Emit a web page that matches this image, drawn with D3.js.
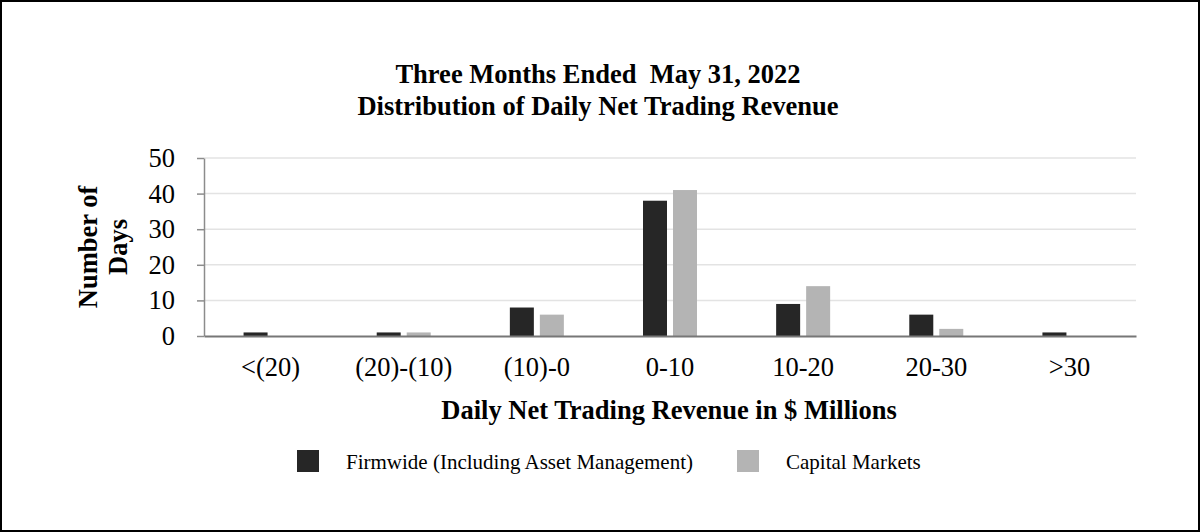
<!DOCTYPE html>
<html>
<head>
<meta charset="utf-8">
<script src="https://cdn.jsdelivr.net/npm/d3@7"></script>
<style>
  html, body { margin: 0; padding: 0; background: #fff; }
  svg { display: block; }
  text { font-family: "Liberation Serif", "Times New Roman", serif; fill: #000; }
</style>
</head>
<body>
<svg id="chart" width="1200" height="532"></svg>
<script>
// Distribution of daily net trading revenue, three months ended May 31, 2022

var categories = ["<(20)", "(20)-(10)", "(10)-0", "0-10", "10-20", "20-30", ">30"];
var firmwide = [1, 1, 8, 38, 9, 6, 1];
var capitalMarkets = [0, 1, 6, 41, 14, 2, 0];
var yTicks = [0, 10, 20, 30, 40, 50];
var seriesNames = ["Firmwide (Including Asset Management)", "Capital Markets"];
var seriesColors = ["#262626", "#b4b4b4"];

var FONT = "'Liberation Serif', 'Times New Roman', serif";
var svg = d3.select("#chart");
var W = 1200, H = 532;

// outer frame
svg.append("rect")
  .attr("x", 1).attr("y", 1)
  .attr("width", W - 2).attr("height", H - 2)
  .attr("fill", "#fff").attr("stroke", "#000").attr("stroke-width", 2);

var margin = { left: 204, right: 64, top: 158, bottom: 196 };
var plotW = W - margin.left - margin.right;
var plotH = H - margin.top - margin.bottom;

var g = svg.append("g").attr("transform", "translate(" + margin.left + "," + margin.top + ")");

var x0 = d3.scaleBand().domain(categories).range([0, plotW]).paddingInner(0).paddingOuter(0);
var x1 = d3.scaleBand().domain([0, 1]).range([x0.bandwidth() / 2 - 27, x0.bandwidth() / 2 + 27]).paddingInner(0.2);
var y = d3.scaleLinear().domain([0, 50]).range([plotH, 0]);

// gridlines
g.append("g")
  .selectAll("line")
  .data(yTicks.filter(function (d) { return d > 0; }))
  .enter().append("line")
  .attr("x1", 0).attr("x2", plotW)
  .attr("y1", function (d) { return y(d); })
  .attr("y2", function (d) { return y(d); })
  .attr("stroke", "#e3e3e3").attr("stroke-width", 1.5);

// bars
var series = [firmwide, capitalMarkets];
series.forEach(function (vals, si) {
  g.append("g")
    .selectAll("rect")
    .data(vals)
    .enter().append("rect")
    .attr("x", function (d, i) { return x0(categories[i]) + x1(si); })
    .attr("y", function (d) { return y(d); })
    .attr("width", x1.bandwidth())
    .attr("height", function (d) { return plotH - y(d); })
    .attr("fill", seriesColors[si]);
});

// y axis
var yAxis = g.append("g")
  .call(d3.axisLeft(y).tickValues(yTicks).tickSize(7).tickPadding(22).tickSizeOuter(0));
yAxis.select(".domain").attr("stroke", "#8c8c8c").attr("stroke-width", 1.5);
yAxis.selectAll(".tick line").attr("stroke", "#8c8c8c").attr("stroke-width", 1.5);
yAxis.selectAll(".tick text")
  .attr("font-family", FONT)
  .attr("font-size", 26.5).attr("fill", "#000");

// x axis
var xAxis = g.append("g")
  .attr("transform", "translate(0," + plotH + ")")
  .call(d3.axisBottom(x0).tickSize(0).tickPadding(21).tickSizeOuter(0));
xAxis.select(".domain").attr("stroke", "#777").attr("stroke-width", 2);
xAxis.selectAll(".tick text")
  .attr("font-family", FONT)
  .attr("font-size", 26.5).attr("fill", "#000");

// titles
svg.append("text")
  .attr("x", 598).attr("y", 83)
  .attr("text-anchor", "middle")
  .attr("font-size", 26.5).attr("font-weight", "bold")
  .attr("xml:space", "preserve")
  .text("Three Months Ended  May 31, 2022");
svg.append("text")
  .attr("x", 598).attr("y", 115)
  .attr("text-anchor", "middle")
  .attr("font-size", 26.5).attr("font-weight", "bold")
  .text("Distribution of Daily Net Trading Revenue");

// axis titles
svg.append("text")
  .attr("x", 669).attr("y", 419)
  .attr("text-anchor", "middle")
  .attr("font-size", 26.5).attr("font-weight", "bold")
  .text("Daily Net Trading Revenue in $ Millions");

var yt = svg.append("text")
  .attr("transform", "translate(0,247) rotate(-90)")
  .attr("text-anchor", "middle")
  .attr("font-size", 26.5).attr("font-weight", "bold");
yt.append("tspan").attr("x", 0).attr("y", 97).text("Number of");
yt.append("tspan").attr("x", 0).attr("y", 127).text("Days");

// legend
var legendX = [297, 737];
seriesNames.forEach(function (name, i) {
  var lg = svg.append("g").attr("transform", "translate(" + legendX[i] + ",450)");
  lg.append("rect").attr("width", 22).attr("height", 22).attr("fill", seriesColors[i]);
  lg.append("text").attr("x", 49).attr("y", 19)
    .attr("font-size", 21).text(name);
});
</script>
</body>
</html>
